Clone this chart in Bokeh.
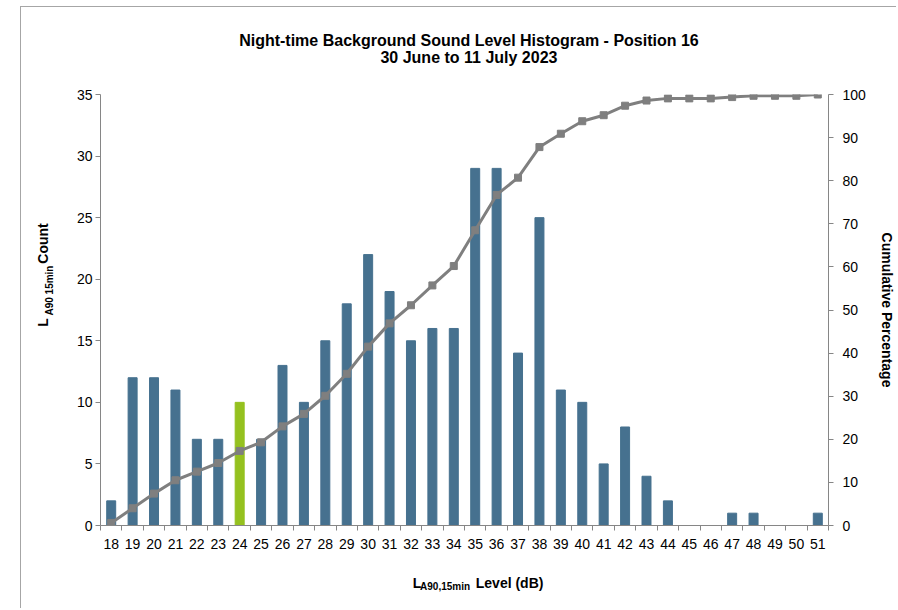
from bokeh.plotting import figure
from bokeh.models import Range1d, LinearAxis, FixedTicker
from bokeh.embed import file_html
from bokeh.resources import INLINE

levels = list(range(18, 52))
counts = [2, 12, 12, 11, 7, 7, 10, 7, 13, 10, 15, 18, 22, 19, 15, 16, 16,
          29, 29, 14, 25, 11, 10, 5, 8, 4, 2, 0, 0, 1, 1, 0, 0, 1]
cumulative = [0.6, 4.0, 7.4, 10.5, 12.5, 14.5, 17.3, 19.3, 23.0, 25.9, 30.1,
              35.2, 41.5, 46.9, 51.1, 55.7, 60.2, 68.5, 76.7, 80.7, 87.8,
              90.9, 93.8, 95.2, 97.4, 98.6, 99.1, 99.1, 99.1, 99.4, 99.7,
              99.7, 99.7, 100.0]
highlight_level = 24
count_ticks = [0, 5, 10, 15, 20, 25, 30, 35]
pct_ticks = [0, 10, 20, 30, 40, 50, 60, 70, 80, 90, 100]
title_line1 = "Night-time Background Sound Level Histogram - Position 16"
title_line2 = "30 June to 11 July 2023"
NB = "\u00a0"
x_label_main = NB * 7 + "L" + NB * 14 + "Level (dB)"
x_label_sub = "A90,15min" + NB * 14
y_label_main = NB * 18 + "L" + NB * 14 + "Count"
y_label_sub = NB * 14 + "A90 15min"
y2_label = "Cumulative Percentage"

BAR = "#46718F"
HIGH = "#95C11F"
LINE = "#7F7F7F"
AX = "#868686"
FONT = "Liberation Sans"

colors = [HIGH if l == highlight_level else BAR for l in levels]

p = figure(width=876, height=602, output_backend="svg", toolbar_location=None,
           x_range=Range1d(17.5, 51.5), y_range=Range1d(0, 35),
           min_border_left=79, min_border_right=67, min_border_top=87,
           min_border_bottom=84)
p.margin = (6, 0, 0, 20)
p.styles = {"border-top": "1px solid #A6A6A6", "border-left": "1px solid #A6A6A6"}
p.extra_y_ranges = {"pct": Range1d(0, 100)}
p.outline_line_color = None
p.xgrid.visible = False
p.ygrid.visible = False
p.title.text = ""
p.title.standoff = 0

p.vbar(x=levels, top=counts, width=0.42, color=colors)
p.line(x=levels, y=cumulative, y_range_name="pct", line_color=LINE, line_width=3)
p.scatter(x=levels, y=cumulative, y_range_name="pct", marker="square",
          size=7, color=LINE)


def style_axis(ax):
    ax.axis_line_color = AX
    ax.major_tick_line_color = AX
    ax.minor_tick_line_color = AX
    ax.major_tick_in = 0
    ax.minor_tick_in = 0
    ax.major_label_text_font = FONT
    ax.major_label_text_font_size = "14px"
    ax.major_label_text_color = "#000000"
    ax.axis_label_text_font = FONT
    ax.axis_label_text_font_style = "bold"
    ax.axis_label_text_color = "#000000"


def label_axis(text, size, standoff, y_range_name=None):
    kw = {"y_range_name": y_range_name} if y_range_name else {}
    ax = LinearAxis(ticker=FixedTicker(ticks=[]), **kw)
    style_axis(ax)
    ax.axis_line_color = None
    ax.major_tick_out = 0
    ax.minor_tick_out = 0
    ax.major_label_standoff = 0
    ax.axis_label = text
    ax.axis_label_text_font_size = size
    ax.axis_label_standoff = standoff
    return ax


xb = p.below[0]
yl = p.left[0]

# title: two centred lines (line 2 nearest the plot)
p.add_layout(label_axis(NB * 2 + title_line2, "16px", 29), "above")
p.add_layout(label_axis(NB * 2 + title_line1, "16px", -3), "above")

# left
yl.ticker = FixedTicker(ticks=count_ticks)
style_axis(yl)
yl.major_tick_out = 5
yl.major_label_standoff = 3
p.add_layout(label_axis(y_label_sub, "10px", 19), "left")
p.add_layout(label_axis(y_label_main, "14px", -10), "left")

# right
yr = LinearAxis(y_range_name="pct", ticker=FixedTicker(ticks=pct_ticks))
style_axis(yr)
yr.major_tick_out = 5
yr.major_label_standoff = 9
yr.axis_label = y2_label
yr.axis_label_text_font_size = "14px"
yr.axis_label_standoff = 10
p.add_layout(yr, "right")

# bottom
xb.ticker = FixedTicker(ticks=levels,
                        minor_ticks=[l - 0.5 for l in levels] + [levels[-1] + 0.5])
style_axis(xb)
xb.major_tick_out = 0
xb.minor_tick_out = 5
xb.major_label_standoff = 8
p.add_layout(label_axis(x_label_main, "14px", 23), "below")
p.add_layout(label_axis(x_label_sub, "10px", -13), "below")

open("out.html", "w").write(file_html(p, INLINE))
